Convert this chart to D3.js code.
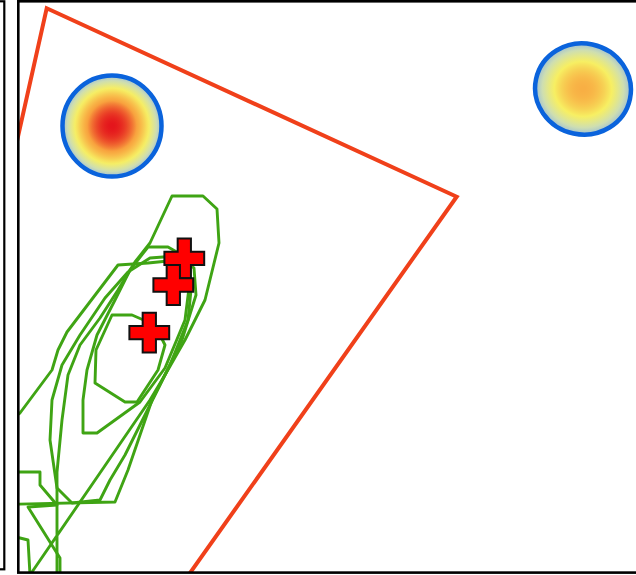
<!DOCTYPE html>
<html>
<head>
<meta charset="utf-8">
<script src="https://cdn.jsdelivr.net/npm/d3@7"></script>
<style>
  html, body { margin: 0; padding: 0; background: #fff; }
  svg { display: block; }
</style>
</head>
<body>
<svg id="map" width="636" height="575"></svg>
<script>
// Map extent in metres (local grid)
const extentX = [0, 6170];
const extentY = [0, 5710];

// Study-area boundary polygon
const boundary = [[277, 5647], [4377, 3763], [810, -1270], [-1270, -1270]];

// Home-range contour rings
const ring1 = [[1530,3770],[1840,3770],[1980,3640],[2000,3300],[1860,2730],[1660,2330],[1460,1980],[1310,1730],[830,1030],[130,10],[-90,-370],[380,-370],[380,1010],[430,1530],[490,1980],[610,2280],[810,2550],[990,2830],[1160,3110],[1310,3300]];
const ring2 = [[1290,3260],[1490,3260],[1630,3180],[1710,2930],[1660,2530],[1460,2050],[1210,1710],[780,1400],[640,1400],[640,1730],[680,2030],[780,2380],[960,2730],[1110,3030]];
const ring3 = [[990,3080],[1290,3100],[1590,3130],[1730,2930],[1690,2530],[1510,2080],[1330,1730],[1090,1030],[960,710],[-390,680],[-390,1330],[10,1600],[330,2030],[390,2230],[480,2410]];
const ring4 = [[1310,3150],[1570,3170],[1750,3050],[1770,2780],[1630,2330],[1410,1880],[1210,1480],[1060,1180],[910,930],[810,730],[530,700],[380,850],[310,1330],[330,1730],[430,2080],[610,2380],[860,2750],[1090,3010]];
const ring5 = [[-490,1010],[210,1010],[210,880],[380,680],[90,660],[410,150],[410,-470],[110,-470],[110,-20],[90,330],[10,350],[-490,430]];
const ringCore = [[930,2580],[1130,2580],[1360,2480],[1460,2280],[1390,2030],[1180,1710],[1060,1710],[760,1900],[770,2230]];
const contourRings = [ring1, ring2, ring3, ring4, ring5, ringCore];

// Observation sites
const siteX = [1653, 1543, 1303];
const siteY = [3147, 2880, 2403];

// Density hotspots: centre, radii (m), rotation (deg), peak density
const hotX = [930, 5640];
const hotY = [4470, 4840];
const hotRx = [495, 480];
const hotRy = [505, 455];
const hotRot = [0, 12];
const hotPeak = [1.0, 0.7];

const svg = d3.select("#map");
const W = 636, H = 575;
const x = d3.scaleLinear().domain(extentX).range([19, 636]);
const y = d3.scaleLinear().domain(extentY).range([573, 2]);

const density = d3.scaleLinear()
  .domain([0, 0.2, 0.45, 0.75, 1])
  .range(["#9dbdd8", "#cfdfb0", "#f7ef62", "#f8a23e", "#e4151c"])
  .interpolate(d3.interpolateRgb);

svg.append("rect").attr("width", W).attr("height", H).attr("fill", "#fff");

const defs = svg.append("defs");
defs.append("clipPath").attr("id", "panel")
  .append("rect").attr("x", 19).attr("y", 2).attr("width", 620).attr("height", 571);

const g = svg.append("g").attr("clip-path", "url(#panel)");

const line = d3.line().x(d => x(d[0])).y(d => y(d[1])).curve(d3.curveLinearClosed);

// Boundary
g.append("path")
  .attr("d", line(boundary))
  .attr("fill", "none")
  .attr("stroke", "#f0401a")
  .attr("stroke-width", 4)
  .attr("stroke-linejoin", "miter");

// Hotspots with radial density gradient
hotX.forEach((cx, i) => {
  const grad = defs.append("radialGradient").attr("id", "hot" + i);
  d3.range(0, 1.0001, 0.05).forEach(r => {
    grad.append("stop")
      .attr("offset", (r * 100) + "%")
      .attr("stop-color", density(hotPeak[i] * (1 - r * r)));
  });
  const px = x(cx), py = y(hotY[i]);
  const rx = x(cx + hotRx[i]) - px;
  const ry = y(hotY[i]) - y(hotY[i] + hotRy[i]);
  g.append("ellipse")
    .attr("transform", `translate(${px},${py}) rotate(${hotRot[i]})`)
    .attr("rx", rx).attr("ry", ry)
    .attr("fill", `url(#hot${i})`)
    .attr("stroke", "#0a63dc")
    .attr("stroke-width", 4.5);
});

// Contours
g.selectAll("path.contour")
  .data(contourRings)
  .join("path")
  .attr("class", "contour")
  .attr("d", line)
  .attr("fill", "none")
  .attr("stroke", "#3fa414")
  .attr("stroke-width", 2.9)
  .attr("stroke-linejoin", "round");

// Sites
const cross = d3.symbol().type(d3.symbolCross).size(880);
g.selectAll("path.site")
  .data(siteX.map((v, i) => [v, siteY[i]]))
  .join("path")
  .attr("class", "site")
  .attr("transform", d => `translate(${x(d[0])},${y(d[1])})`)
  .attr("d", cross)
  .attr("fill", "#ff0000")
  .attr("stroke", "#111")
  .attr("stroke-width", 2);

// Panel frames
svg.append("rect")
  .attr("x", -20).attr("y", 1.3).attr("width", 24.3).attr("height", 568)
  .attr("fill", "none").attr("stroke", "#000").attr("stroke-width", 2.2);
svg.append("rect")
  .attr("x", 18.3).attr("y", 1.3).attr("width", 640).attr("height", 571.3)
  .attr("fill", "none").attr("stroke", "#000").attr("stroke-width", 2.6);
</script>
</body>
</html>
